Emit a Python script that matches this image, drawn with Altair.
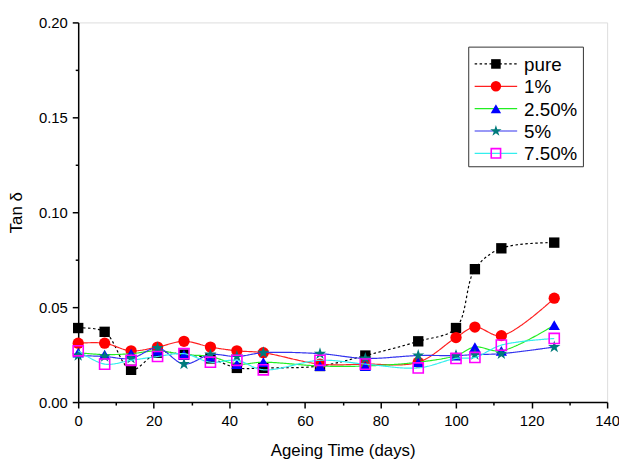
import altair as alt
import pandas as pd

days = [0, 7, 14, 21, 28, 35, 42, 49, 64, 76, 90, 100, 105, 112, 126]
series_names = ["pure", "1%", "2.50%", "5%", "7.50%"]
pure = [0.039, 0.037, 0.017, 0.026, 0.025, 0.023, 0.018, 0.018, 0.019, 0.0245, 0.032, 0.039, 0.070, 0.081, 0.084]
p1 = [0.031, 0.031, 0.027, 0.029, 0.032, 0.029, 0.027, 0.026, 0.020, 0.020, 0.021, 0.034, 0.0395, 0.035, 0.0547]
p25 = [0.026, 0.025, 0.0255, 0.027, 0.025, 0.024, 0.020, 0.021, 0.019, 0.019, 0.021, 0.0245, 0.029, 0.027, 0.0405]
p5 = [0.0245, 0.024, 0.023, 0.0285, 0.020, 0.025, 0.024, 0.026, 0.0255, 0.023, 0.0245, 0.0245, 0.025, 0.0255, 0.029]
p75 = [0.027, 0.020, 0.022, 0.024, 0.0255, 0.021, 0.022, 0.017, 0.022, 0.020, 0.018, 0.023, 0.0235, 0.030, 0.0335]
values = [pure, p1, p25, p5, p75]
x_ticks = list(range(0, 141, 10))
y_ticks = [0, 0.025, 0.05, 0.075, 0.1, 0.125, 0.15, 0.175, 0.2]

STAR = "M0,-1L0.224,-0.309L0.951,-0.309L0.363,0.118L0.588,0.809L0,0.382L-0.588,0.809L-0.363,0.118L-0.951,-0.309L-0.224,-0.309Z"
styles = [
    dict(line="#000000", dash=[2.5, 2.5], shape="square", mcol="#000000", filled=True, size=110),
    dict(line="#ff2020", dash=[1, 0], shape="circle", mcol="#ff0000", filled=True, size=130),
    dict(line="#22ee22", dash=[1, 0], shape="triangle-up", mcol="#0000ff", filled=True, size=130),
    dict(line="#3333ee", dash=[1, 0], shape=STAR, mcol="#007b7b", filled=True, size=170),
    dict(line="#33eeee", dash=[1, 0], shape="square", mcol="#ff00ff", filled=False, size=105),
]

FONT = "Liberation Sans"
xs = alt.Scale(domain=[0, 140], nice=False, zero=False)
ys = alt.Scale(domain=[0, 0.2], nice=False, zero=False)

x_enc = alt.X("day:Q", scale=xs, axis=alt.Axis(
    values=x_ticks,
    tickSize={"condition": {"test": "datum.value % 20 == 0", "value": 6}, "value": 3},
    labelExpr="datum.value % 20 == 0 ? datum.label : ''",
    tickWidth=1.5, domainWidth=1.5,
    domainColor="black", tickColor="black", labelFont=FONT, labelFontSize=15,
    labelColor="black", labelPadding=6, labelFlush=False, labelOverlap=False,
    title="Ageing Time (days)",
    titleFont=FONT, titleFontSize=17, titleFontWeight="normal", titleColor="black",
    titlePadding=14, grid=False))
y_enc = alt.Y("tan:Q", scale=ys, axis=alt.Axis(
    values=y_ticks, format=".2f",
    tickSize={"condition": {"test": "round(datum.value * 1000) % 50 == 0", "value": 6}, "value": 3},
    labelExpr="round(datum.value * 1000) % 50 == 0 ? datum.label : ''",
    tickWidth=1.5, labelOverlap=False, labelFlush=False,
    domainWidth=1.5, domainColor="black", tickColor="black", labelFont=FONT,
    labelFontSize=15, labelColor="black", labelPadding=5, title="Tan δ",
    titleFont=FONT, titleFontSize=17, titleFontWeight="normal", titleColor="black",
    titlePadding=13, grid=False))

layers = []
for i, (name, vals, st) in enumerate(zip(series_names, values, styles)):
    df = pd.DataFrame({"day": days, "tan": vals, "series": name})
    base = alt.Chart(df)
    line = base.mark_line(color=st["line"], strokeDash=st["dash"], strokeWidth=1.2,
                          interpolate="catmull-rom").encode(x=x_enc, y=y_enc)
    pt = base.mark_point(shape=st["shape"], filled=st["filled"],
                         color=st["mcol"], size=st["size"], opacity=1,
                         strokeWidth=1.6).encode(x=x_enc, y=y_enc)
    layers += [line, pt]

# legend
box = alt.Chart(pd.DataFrame({"a": [0]})).mark_rect(fill="white", stroke="#333333", strokeWidth=1).encode(
    x=alt.value(395), x2=alt.value(511), y=alt.value(25), y2=alt.value(146))
layers.append(box)
for i, (name, st) in enumerate(zip(series_names, styles)):
    yy = 42 + i * 22.6
    d = pd.DataFrame({"label": [name]})
    layers.append(alt.Chart(d).mark_rule(color=st["line"], strokeDash=st["dash"], strokeWidth=1.2).encode(
        x=alt.value(401), x2=alt.value(444), y=alt.value(yy)))
    layers.append(alt.Chart(d).mark_point(shape=st["shape"], filled=st["filled"], color=st["mcol"],
                                          size=st["size"] * 0.85, opacity=1, strokeWidth=1.6).encode(
        x=alt.value(422.5), y=alt.value(yy)))
    layers.append(alt.Chart(d).mark_text(align="left", baseline="middle", font=FONT, fontSize=19,
                                         color="black").encode(
        x=alt.value(451), y=alt.value(yy + 1), text="label:N"))

chart = alt.layer(*layers).properties(
    width=535, height=384,
    autosize=alt.AutoSizeParams(type="none"),
    padding={"left": 71, "top": 12, "right": 12, "bottom": 55},
).configure_view(stroke="#222222", strokeWidth=1.2).configure(background="white")

chart.save("out.html", embed_options={"renderer": "svg", "actions": False})
